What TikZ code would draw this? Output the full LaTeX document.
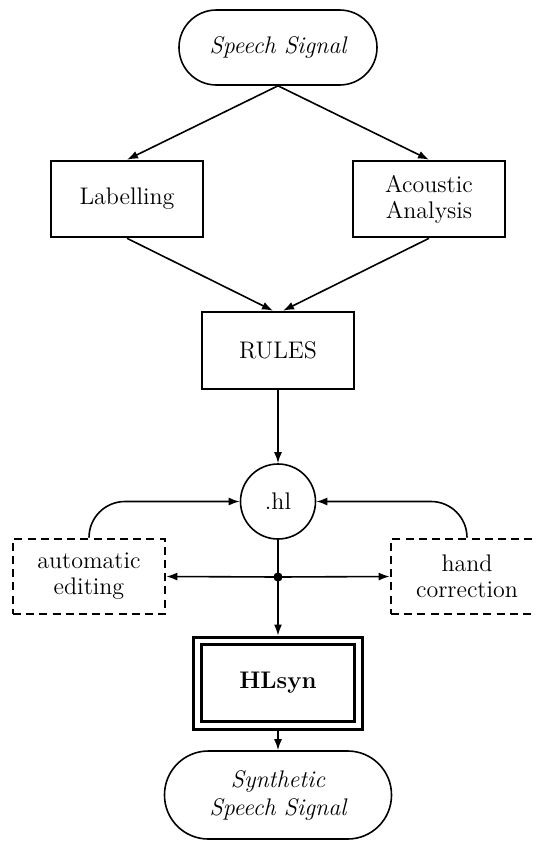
\documentclass[tikz,border=0pt]{standalone}
\usetikzlibrary{arrows.meta}
\begin{document}
\begin{tikzpicture}[x=0.5pt,y=-0.5pt,
  every node/.style={font=\fontsize{12}{13}\selectfont, align=center, inner sep=0pt},
  boxnode/.style={draw, line width=1.3pt, minimum width=76pt, minimum height=38pt},
  dashbox/.style={draw, line width=1.3pt, dash pattern=on 4pt off 2.6pt, minimum width=76pt, minimum height=37.5pt},
  stadium/.style={draw, line width=0.8pt},
  arr/.style={line width=0.8pt, -{Latex[length=5.5pt,width=4pt]}}
]
\useasboundingbox (0,0) rectangle (536,842);
\node[stadium, minimum width=99pt, minimum height=37.5pt, rounded corners=18.7pt] (sig) at (278,47.5) {\itshape Speech Signal};
\node[boxnode] (lab) at (127,199) {Labelling};
\node[boxnode] (aco) at (429,199) {Acoustic\\Analysis};
\node[boxnode, minimum height=38.5pt] (rules) at (278,350.5) {RULES};
\node[draw, circle, line width=0.8pt, minimum size=37.5pt] (hl) at (278,501.5) {.hl};
\node[dashbox] (auto) at (89,576.5) {automatic\\editing};
\node[dashbox] (hand) at (467,576.5) {hand\\correction};
\node[circle, fill, minimum size=4.6pt] (dot) at (278,577) {};
\node[draw, line width=1.5pt, minimum width=84.5pt, minimum height=46pt] (hls) at (278,683) {};
\node[draw, line width=1.1pt, minimum width=76.5pt, minimum height=38.5pt] (hlsin) at (hls.center) {\bfseries HLsyn};
\node[stadium, minimum width=113.5pt, minimum height=44pt, rounded corners=21.9pt, font=\fontsize{12}{14}\selectfont] (syn) at (278,795) {\itshape Synthetic\\\itshape Speech Signal};
\draw[arr] (sig.south) -- (lab.north);
\draw[arr] (sig.south) -- (aco.north);
\draw[arr] (lab.south) -- ([xshift=-2.5pt]rules.north);
\draw[arr] (aco.south) -- ([xshift=2.5pt]rules.north);
\draw[arr] (rules.south) -- (hl.north);
\draw[arr] (hl.south) -- (hls.north);
\draw[arr] (dot.center) -- (auto.east);
\draw[arr] (dot.center) -- (hand.west);
\draw[arr, rounded corners=18pt] (auto.north) |- (hl.west);
\draw[arr, rounded corners=18pt] (hand.north) |- (hl.east);
\draw[arr] (hls.south) -- (syn.north);
\end{tikzpicture}
\end{document}
